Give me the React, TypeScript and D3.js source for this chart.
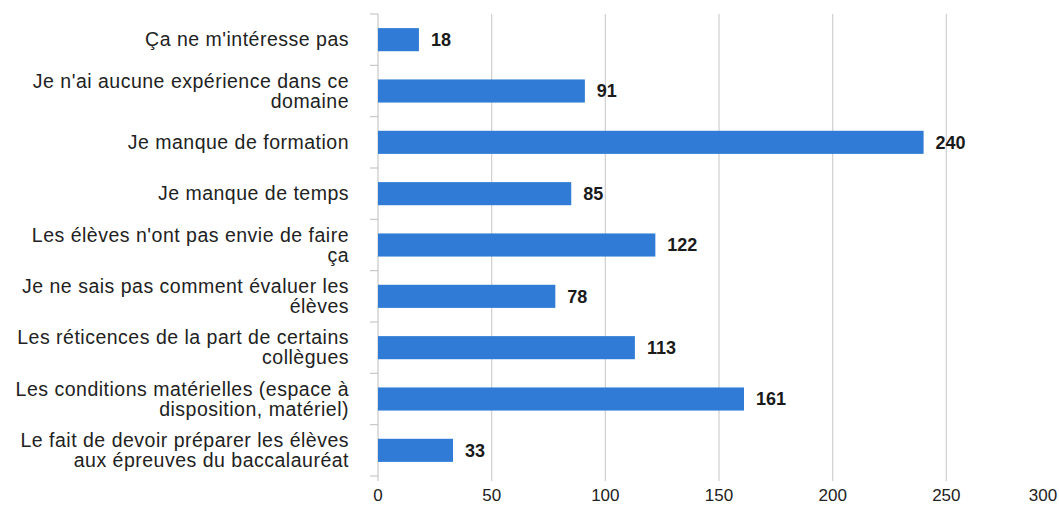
import React from 'react';
import * as d3 from 'd3';

const categories: string[][] = [
  ["Ça ne m'intéresse pas"],
  ["Je n'ai aucune expérience dans ce", "domaine"],
  ["Je manque de formation"],
  ["Je manque de temps"],
  ["Les élèves n'ont pas envie de faire", "ça"],
  ["Je ne sais pas comment évaluer les", "élèves"],
  ["Les réticences de la part de certains", "collègues"],
  ["Les conditions matérielles (espace à", "disposition, matériel)"],
  ["Le fait de devoir préparer les élèves", "aux épreuves du baccalauréat"],
];
const values = [18, 91, 240, 85, 122, 78, 113, 161, 33];
const xTicks = [0, 50, 100, 150, 200, 250, 300];

const W = 1059;
const H = 506;
const FONT = '"Liberation Sans", Arial, sans-serif';

export default function App() {
  const x = d3.scaleLinear().domain([0, 300]).range([378, 1060]);
  const y = d3
    .scaleBand<number>()
    .domain(d3.range(values.length))
    .range([14, 476])
    .paddingInner(0.55)
    .paddingOuter(0.275);
  const step = y.step();
  const top = 14;
  const bottom = 476;

  return (
    <svg
      width={W}
      height={H}
      style={{ position: 'absolute', left: 0, top: 0, background: '#fff' }}
      fontFamily={FONT}
    >
      {/* gridlines */}
      {xTicks.slice(1).map((t) => (
        <line key={'g' + t} x1={x(t)} x2={x(t)} y1={top} y2={bottom + 5} stroke="#cfcfcf" strokeWidth={1.2} />
      ))}
      {/* left axis + category separators */}
      <line x1={x(0)} x2={x(0)} y1={top} y2={bottom + 5} stroke="#c8c8c8" strokeWidth={1.2} />
      {d3.range(values.length + 1).map((i) => (
        <line key={'s' + i} x1={x(0) - 8} x2={x(0)} y1={top + i * step} y2={top + i * step} stroke="#c8c8c8" strokeWidth={1.2} />
      ))}
      {/* bars */}
      {values.map((v, i) => (
        <rect key={'b' + i} x={x(0)} y={y(i)} width={x(v) - x(0)} height={y.bandwidth()} fill="#2f7bd6" />
      ))}
      {/* value labels */}
      {values.map((v, i) => (
        <text
          key={'v' + i}
          x={x(v) + 12}
          y={(y(i) ?? 0) + y.bandwidth() / 2}
          dy="0.35em"
          fontSize={18}
          fontWeight="bold"
          fill="#1a1a1a"
        >
          {v}
        </text>
      ))}
      {/* category labels */}
      {categories.map((lines, i) => {
        const cy = (y(i) ?? 0) + y.bandwidth() / 2;
        const lh = 20;
        const y0 = cy - ((lines.length - 1) * lh) / 2;
        return (
          <text key={'c' + i} x={349} textAnchor="end" fontSize={19.5} letterSpacing={0.5} fill="#222">
            {lines.map((l, j) => (
              <tspan key={j} x={349} y={y0 + j * lh} dy="0.35em">
                {l}
              </tspan>
            ))}
          </text>
        );
      })}
      {/* x tick labels (last one sits at the edge, so keep it inside) */}
      {xTicks.map((t) => (
        <text key={'t' + t} x={Math.min(x(t), W - 16)} y={501} textAnchor="middle" fontSize={17} fill="#222">
          {t}
        </text>
      ))}
    </svg>
  );
}
